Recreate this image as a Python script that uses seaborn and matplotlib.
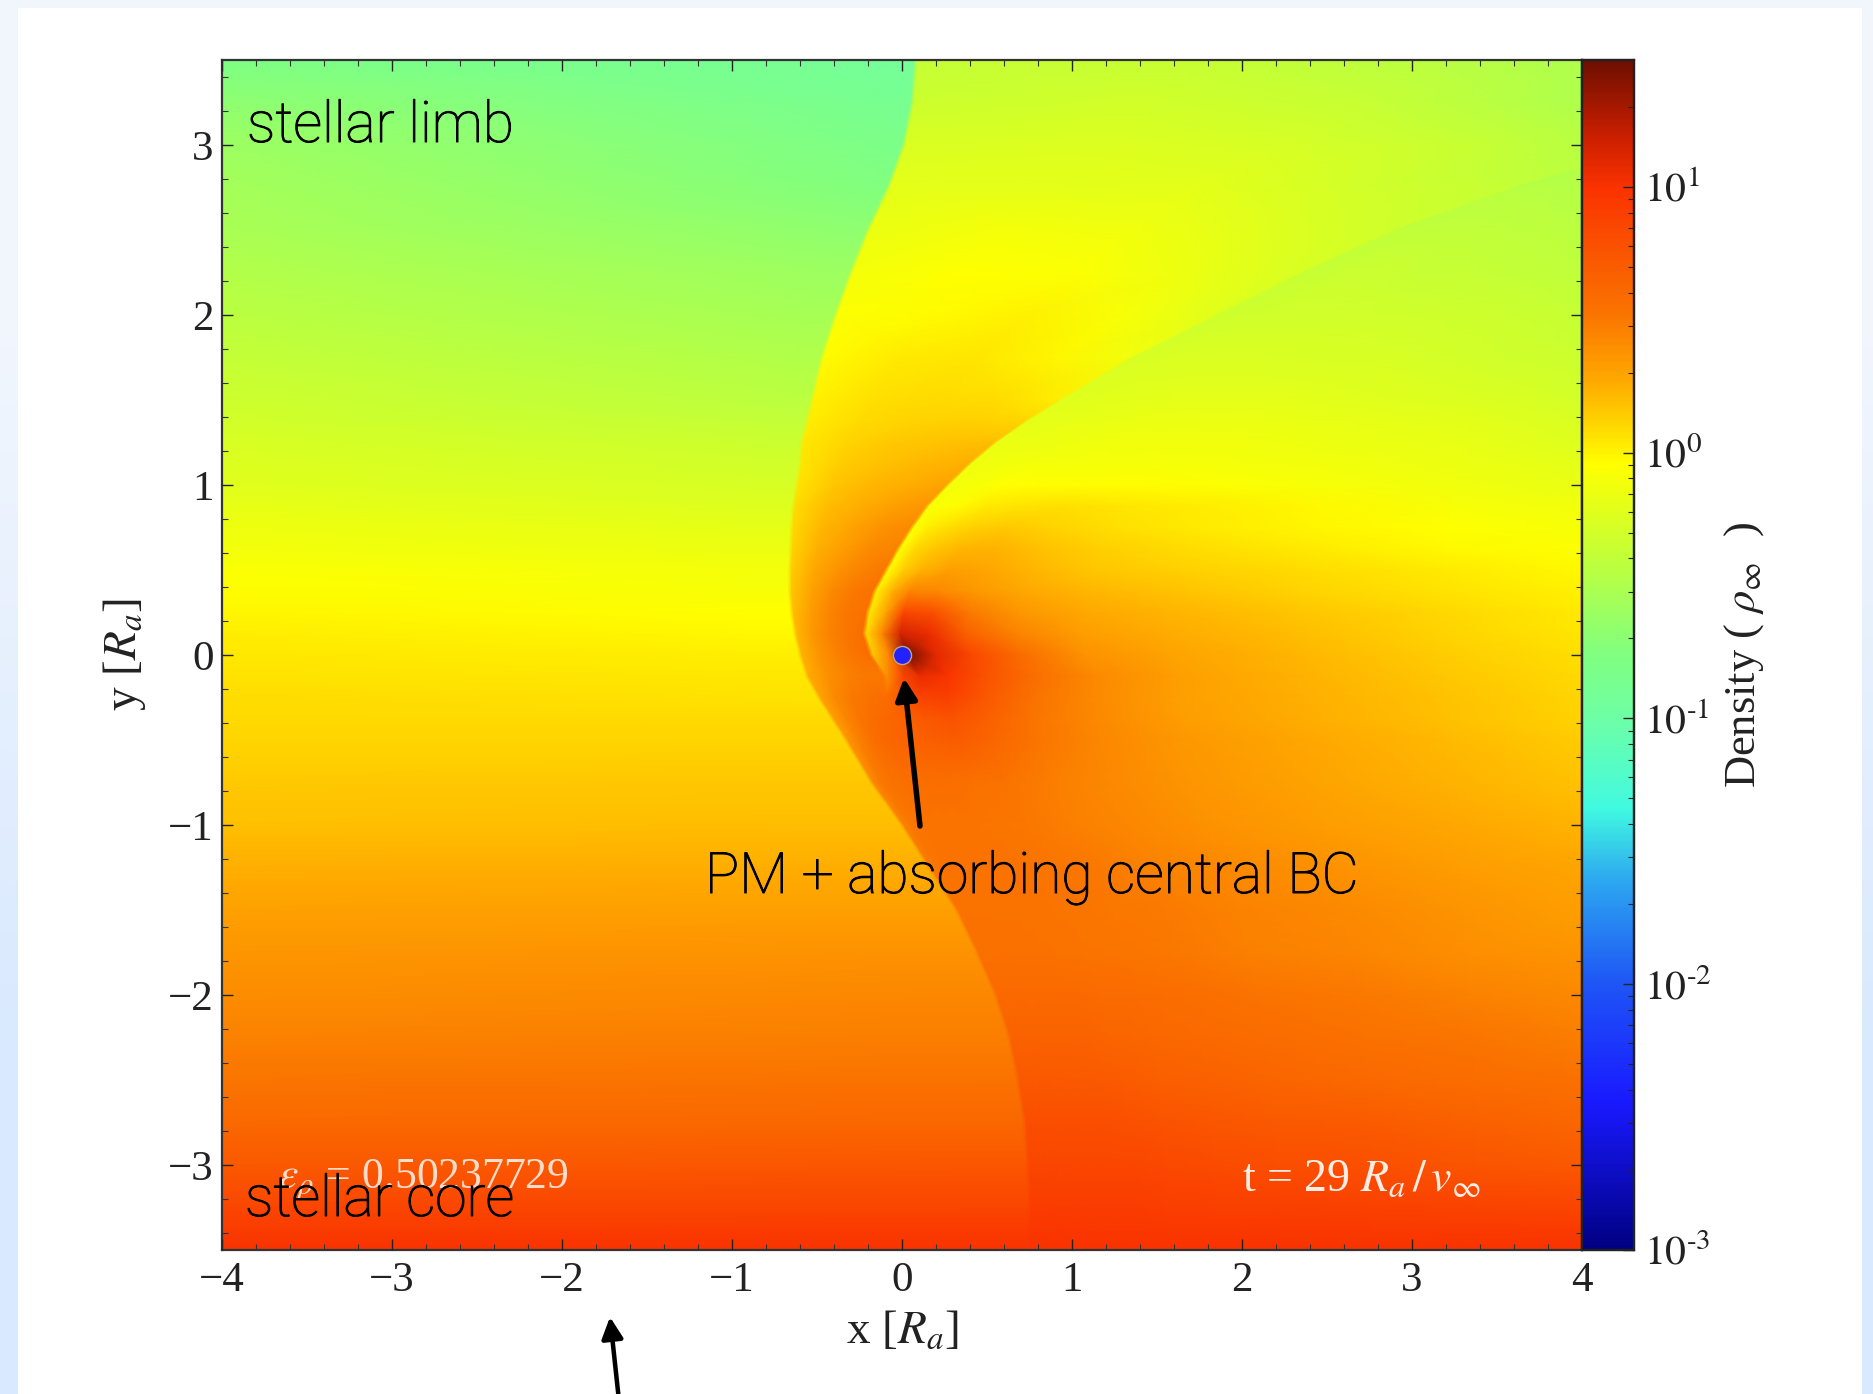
import numpy as np
import pandas as pd
import seaborn as sns
import matplotlib
matplotlib.use("Agg")
import matplotlib.pyplot as plt
import matplotlib.patheffects as pe
from matplotlib.colors import LogNorm, LinearSegmentedColormap
from matplotlib.patches import FancyArrowPatch, Rectangle
from matplotlib.ticker import FixedLocator, NullFormatter, MultipleLocator, LogLocator

# ---- data --------------------------------------------------------------
y_rows = [3.5, 3.25, 3, 2.75, 2.5, 2.25, 2, 1.75, 1.5, 1.375, 1.25, 1.125, 1, .875, .75, .625, .5, .375, .25, .125, 0,
          -.125, -.25, -.375, -.5, -.75, -1, -1.25, -1.5, -1.75, -2, -2.25, -2.5, -2.75, -3, -3.25, -3.5]
# x of the outer bow shock in every row
shock_x = [.08, .06, .01, -.08, -.2, -.3, -.39, -.47, -.53, -.56, -.59, -.6, -.62, -.64, -.65, -.655, -.66, -.66, -.65, -.63, -.6,
           -.56, -.49, -.41, -.33, -.18, 0, .16, .32, .44, .55, .63, .68, .72, .74, .75, .75]
# x of the inner arc / wake ridge in every row
arc_x = [6.3, 5.4, 4.5, 3.6, 2.9, 2.35, 1.85, 1.35, .93, .73, .55, .4, .27, .15, .06, -.02, -.09, -.16, -.2, -.22, -.18,
         -.1, -.1, -.08, -.05, .05, .2, .35, .5, .6, .7, .78, .85, .88, .9, .9, .9]
# share of the way from the ridge to the right edge for the right-hand columns
right_share = [.025, .05, .09, .14, .21, .3, .42, .6, .8, 1]
# log10 density: left edge, before shock, after shock, 3 inner, before arc, after arc, 10 right-hand
log_rho = [
 [-.78,-.92,-.38,-.36,-.44,-.56,-.60,-.60,-.60,-.60,-.60,-.60,-.60,-.60,-.60,-.60,-.60,-.60],
 [-.68,-.88,-.34,-.30,-.36,-.50,-.60,-.60,-.60,-.60,-.60,-.60,-.60,-.60,-.60,-.60,-.60,-.60],
 [-.60,-.82,-.26,-.24,-.28,-.36,-.50,-.52,-.52,-.52,-.52,-.52,-.52,-.52,-.52,-.52,-.52,-.52],
 [-.56,-.76,-.20,-.20,-.21,-.30,-.38,-.44,-.44,-.44,-.44,-.44,-.44,-.44,-.44,-.45,-.46,-.47],
 [-.53,-.68,-.15,-.10,-.13,-.22,-.32,-.40,-.40,-.40,-.40,-.40,-.40,-.40,-.40,-.41,-.42,-.43],
 [-.48,-.60,-.10,-.05,-.07,-.15,-.27,-.36,-.36,-.36,-.36,-.35,-.35,-.35,-.36,-.37,-.39,-.41],
 [-.43,-.55,-.07,-.03, .00,-.08,-.22,-.32,-.32,-.32,-.32,-.31,-.31,-.31,-.31,-.32,-.34,-.37],
 [-.38,-.49,-.03, .03, .05,-.01,-.12,-.28,-.27,-.27,-.26,-.26,-.26,-.26,-.27,-.28,-.31,-.34],
 [-.33,-.43, .00, .07, .09, .08, .02,-.22,-.22,-.22,-.21,-.21,-.20,-.20,-.20,-.22,-.25,-.29],
 [-.30,-.39, .02, .09, .12, .13, .11,-.19,-.19,-.19,-.18,-.17,-.16,-.16,-.16,-.18,-.21,-.26],
 [-.27,-.35, .04, .12, .16, .18, .20,-.16,-.16,-.16,-.15,-.14,-.13,-.13,-.13,-.15,-.18,-.23],
 [-.24,-.31, .05, .14, .19, .22, .25,-.13,-.13,-.12,-.11,-.10,-.10,-.09,-.10,-.12,-.15,-.20],
 [-.22,-.28, .06, .17, .22, .26, .30,-.10,-.10,-.08,-.05,-.04,-.04,-.04,-.06,-.09,-.13,-.17],
 [-.18,-.24, .08, .20, .26, .32, .36,-.08,-.06,-.03, .03, .06, .07, .05, .02,-.02,-.08,-.12],
 [-.14,-.19, .10, .22, .30, .38, .42,-.06, .02, .07, .13, .15, .12, .07, .03,-.01,-.05,-.09],
 [-.11,-.15, .12, .25, .34, .42, .46,-.04, .10, .16, .22, .24, .18, .13, .08, .03,-.02,-.06],
 [-.07,-.11, .14, .28, .38, .46, .50,-.02, .14, .24, .32, .29, .22, .16, .13, .08, .03,-.02],
 [-.04,-.08, .17, .30, .42, .50, .55, .02, .25, .45, .42, .35, .28, .22, .18, .12, .06, .00],
 [-.01,-.05, .20, .33, .45, .52, .55, .05, .30, .85, .80, .50, .36, .28, .23, .17, .10, .03],
 [ .02,-.02, .22, .35, .46, .52, .56, .10, .45,1.15,1.05, .68, .46, .33, .27, .20, .12, .05],
 [ .04, .01, .24, .36, .46, .52, .56, .16, .45,1.50,1.10, .85, .58, .38, .30, .22, .14, .07],
 [ .06, .04, .27, .38, .46, .50, .50, .40, .85,1.05, .98, .78, .57, .42, .32, .24, .16, .09],
 [ .08, .06, .30, .42, .50, .54, .56, .58, .72, .88, .90, .74, .55, .42, .32, .25, .18, .11],
 [ .09, .09, .33, .44, .52, .58, .62, .62, .65, .72, .76, .68, .52, .42, .33, .26, .19, .12],
 [ .11, .11, .36, .46, .54, .60, .63, .63, .65, .68, .70, .63, .52, .43, .35, .28, .21, .14],
 [ .15, .16, .42, .50, .54, .55, .56, .56, .56, .56, .55, .53, .48, .42, .36, .30, .24, .18],
 [ .19, .20, .46, .50, .52, .53, .53, .53, .53, .53, .52, .51, .47, .43, .38, .33, .28, .23],
 [ .25, .26, .50, .52, .53, .54, .54, .54, .54, .54, .53, .52, .50, .46, .42, .38, .33, .29],
 [ .31, .32, .53, .54, .54, .54, .54, .54, .54, .54, .53, .52, .51, .49, .46, .42, .37, .32],
 [ .36, .38, .55, .55, .55, .55, .55, .55, .55, .55, .54, .53, .52, .50, .47, .44, .40, .37],
 [ .41, .43, .60, .60, .60, .60, .60, .60, .60, .60, .60, .59, .58, .56, .53, .50, .46, .42],
 [ .46, .48, .65, .65, .65, .65, .65, .65, .65, .65, .65, .63, .62, .60, .58, .55, .52, .48],
 [ .52, .54, .72, .72, .72, .72, .72, .72, .72, .72, .72, .70, .68, .66, .63, .60, .57, .55],
 [ .60, .62, .80, .80, .80, .80, .80, .80, .80, .80, .80, .78, .76, .74, .72, .70, .66, .62],
 [ .72, .74, .85, .85, .85, .85, .85, .85, .85, .85, .85, .85, .83, .82, .80, .78, .75, .72],
 [ .85, .86, .92, .92, .92, .92, .92, .92, .92, .92, .92, .92, .91, .90, .90, .89, .88, .86],
 [1.00,1.00,1.00,1.00,1.00,1.00,1.00,1.00,1.00,1.00,1.00,1.00,1.00,1.00,1.00,1.00,1.00,1.00],
]
x_tick_values = [-4, -3, -2, -1, 0, 1, 2, 3, 4]
y_tick_values = [-3, -2, -1, 0, 1, 2, 3]
cbar_major = [1e-3, 1e-2, 1e-1, 1e0, 1e1]
cbar_labels = [r"$10^{\text{-3}}$", r"$10^{\text{-2}}$", r"$10^{\text{-1}}$", r"$10^{0}$", r"$10^{1}$"]
# colours, with the log10 density where each sits
cbar_log = [-3, -2.45, -2, -1.6, -1.34, -1, -.76, -.36, -.045, .27, .53, .75, 1.0, 1.2, 1.477]
cbar_rgb = ["#000082", "#1919ff", "#1e55f5", "#2daaf0", "#41fae1", "#6effa5", "#80ff80", "#c8ff32",
            "#ffff00", "#ffaa00", "#fa7300", "#fa5500", "#fa3200", "#c81e00", "#6e0f00"]
sink_x = [0]
sink_y = [0]
label_limb = "stellar limb"
label_core = "stellar core"
label_sink = "PM + absorbing central BC"
label_eps = r"$\epsilon_\rho$ = 0.50237729"
label_time = r"t = 29 $R_a\,/\,v_\infty$"
band_top = "#f1f6fd"
band_bottom = "#d9e9ff"

# ---- figure -------------------------------------------------------------
W, H = 1873, 1394
sns.set_theme(style="ticks")
plt.rcParams["font.family"] = ["Liberation Serif", "DejaVu Serif"]
plt.rcParams["mathtext.fontset"] = "stix"
fig = plt.figure(figsize=(W / 100, H / 100), dpi=100, facecolor="white")


def box(l, t, r, b):
    return [l / W, 1 - b / H, (r - l) / W, (b - t) / H]


def fx(px):
    return px / W


def fy(py):
    return 1 - py / H


bg = fig.add_axes([0, 0, 1, 1], zorder=-5)
bg.imshow([[0.0], [1.0]], aspect="auto", extent=[0, W, H, 0], interpolation="bilinear",
          cmap=LinearSegmentedColormap.from_list("band", [band_top, band_bottom]))
bg.add_patch(Rectangle((18, 8), 1844, H, facecolor="white", edgecolor="none"))
bg.set_xlim(0, W)
bg.set_ylim(H, 0)
bg.axis("off")

ax = fig.add_axes(box(222, 60, 1582, 1250))
cax = fig.add_axes(box(1582, 60, 1634, 1250))

positions = (np.array(cbar_log) + 3) / (cbar_log[-1] + 3)
cmap = LinearSegmentedColormap.from_list("density", list(zip(positions, cbar_rgb)), N=512)
rho = pd.DataFrame(10.0 ** np.array(log_rho), index=y_rows)
sns.heatmap(rho, ax=ax, cbar_ax=cax, cmap=cmap, norm=LogNorm(vmin=1e-3, vmax=10 ** cbar_log[-1]),
            shading="gouraud", xticklabels=False, yticklabels=False)

# place the mesh nodes on the positions read for each row
s = np.array(shock_x)
a = np.array(arc_x)
share = np.array(right_share)
inner = np.array([.25, .5, .75])
columns = [np.full_like(s, -4.0), s - .012, s + .012]
columns += [s + f * (a - s) for f in inner]
columns += [a - .012, a + .012]
columns += [a + f * (np.maximum(4.0, a + .2) - a) for f in share]
X = np.stack(columns, axis=1)
Y = np.repeat(np.array(y_rows)[:, None], X.shape[1], axis=1)
ax.collections[0]._coordinates = np.stack([X, Y], axis=-1)

ax.set_axisbelow(False)
cax.set_axisbelow(False)
ax.set_xlim(-4, 4)
ax.set_ylim(-3.5, 3.5)
ax.set_xticks(x_tick_values)
ax.set_yticks(y_tick_values)
ax.set_xticklabels([str(v).replace("-", "\u2212") for v in x_tick_values])
ax.set_yticklabels([str(v).replace("-", "\u2212") for v in y_tick_values])
ax.xaxis.set_minor_locator(MultipleLocator(.2))
ax.yaxis.set_minor_locator(MultipleLocator(.2))
ax.tick_params(which="major", direction="in", top=True, right=True, length=8, width=1,
               labelsize=31, colors="#222222")
ax.tick_params(axis="x", which="major", pad=8)
ax.tick_params(axis="y", which="major", pad=6)
ax.tick_params(which="minor", direction="in", top=True, right=True, length=4, width=.8, color="#333333")
for sp in ax.spines.values():
    sp.set_visible(True)
    sp.set_linewidth(1.6)
    sp.set_color("#333333")
ax.set_xlabel(r"x [$R_a$]", fontsize=34, color="#222222")
ax.set_ylabel(r"y [$R_a$]", fontsize=34, color="#222222")
ax.xaxis.set_label_coords(.5, (1250 - 1310) / 1190)
ax.yaxis.set_label_coords((148 - 222) / 1360, .5)

ax.scatter(sink_x, sink_y, s=170, color="#2222ff", edgecolor="#c9a27a", linewidth=1, zorder=4)

fig.text(fx(278), fy(1188), label_eps, color="white", alpha=.8, fontsize=31.5, va="baseline")
fig.text(fx(1242), fy(1191), label_time, color="white", alpha=.9, fontsize=33, va="baseline")
for txt, px, py in [(label_limb, 247, 142), (label_core, 245, 1216), (label_sink, 705, 893)]:
    fig.text(fx(px), fy(py), txt, color="black", fontsize=41, va="baseline", fontweight="light",
             family=["Roboto", "Liberation Sans", "DejaVu Sans"],
             path_effects=[pe.withStroke(linewidth=.7, foreground="black")])

# colour bar
cax.yaxis.set_ticks_position("right")
cax.set_yscale("log")
cax.set_ylim(1e-3, 10 ** cbar_log[-1])
cax.yaxis.set_major_locator(FixedLocator(cbar_major))
cax.set_yticklabels(cbar_labels)
cax.yaxis.set_minor_locator(LogLocator(base=10, subs=np.arange(2, 10), numticks=12))
cax.yaxis.set_minor_formatter(NullFormatter())
cax.tick_params(which="major", direction="in", length=8, width=1, labelsize=30, pad=7, colors="#222222")
cax.tick_params(which="minor", direction="in", length=4, width=.8, color="#222222")
for sp in cax.spines.values():
    sp.set_visible(True)
    sp.set_linewidth(1.6)
    sp.set_color("#222222")
fig.text(fx(1744), fy(655), r"Density ( $\rho_\infty$  )", rotation=90, fontsize=32,
         ha="center", va="center", color="#222222")

# arrows over the slide
for tail, tip, lw in [((920, 826), (904, 678), 5.5), ((620, 1410), (610, 1317), 4.5)]:
    fig.add_artist(FancyArrowPatch((fx(tail[0]), fy(tail[1])), (fx(tip[0]), fy(tip[1])),
                                   transform=fig.transFigure, arrowstyle="-|>", mutation_scale=32,
                                   shrinkA=0, shrinkB=0, lw=lw / 1.39, color="black", zorder=10))

fig.savefig("out.png", dpi=100, facecolor="white")
